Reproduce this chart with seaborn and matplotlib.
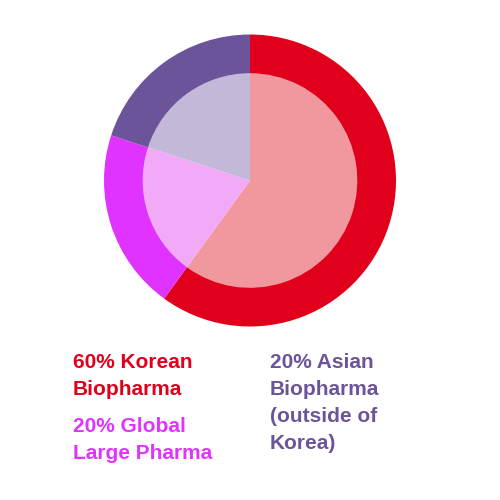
import matplotlib
matplotlib.use("Agg")
import matplotlib.pyplot as plt
import seaborn as sns

sns.set_theme(style="white")
plt.rcParams['font.family'] = ['Liberation Sans', 'DejaVu Sans']

# data
shares = [60, 20, 20]
outer_colors = ['#E0001B', '#E033FF', '#6B5499']
inner_colors = ['#F1989F', '#F2A9F8', '#C3B8D7']
labels = [
    ['60% Korean', 'Biopharma'],
    ['20% Global', 'Large Pharma'],
    ['20% Asian', 'Biopharma', '(outside of', 'Korea)'],
]

fig = plt.figure(figsize=(5, 5), dpi=100)
ax = fig.add_axes([0.208, 0.347, 0.584, 0.584])

# outer ring
ax.pie(shares, colors=outer_colors, startangle=90, counterclock=False,
       radius=1.0, wedgeprops=dict(width=0.27, linewidth=0))
# inner light pie
ax.pie(shares, colors=inner_colors, startangle=90, counterclock=False,
       radius=0.735, wedgeprops=dict(linewidth=0))
ax.set_xlim(-1, 1)
ax.set_ylim(-1, 1)
ax.set_aspect('equal')
ax.axis('off')

# legend text blocks (x, first baseline in px from top)
spots = [(73, 368), (73, 432), (270, 368)]
for lines, color, (x, y0) in zip(labels, outer_colors, spots):
    for i, line in enumerate(lines):
        fig.text(x / 500, 1 - (y0 + i * 27) / 500, line, color=color,
                 fontsize=15, fontweight='bold', ha='left', va='baseline')

fig.savefig('out.png', dpi=100)
